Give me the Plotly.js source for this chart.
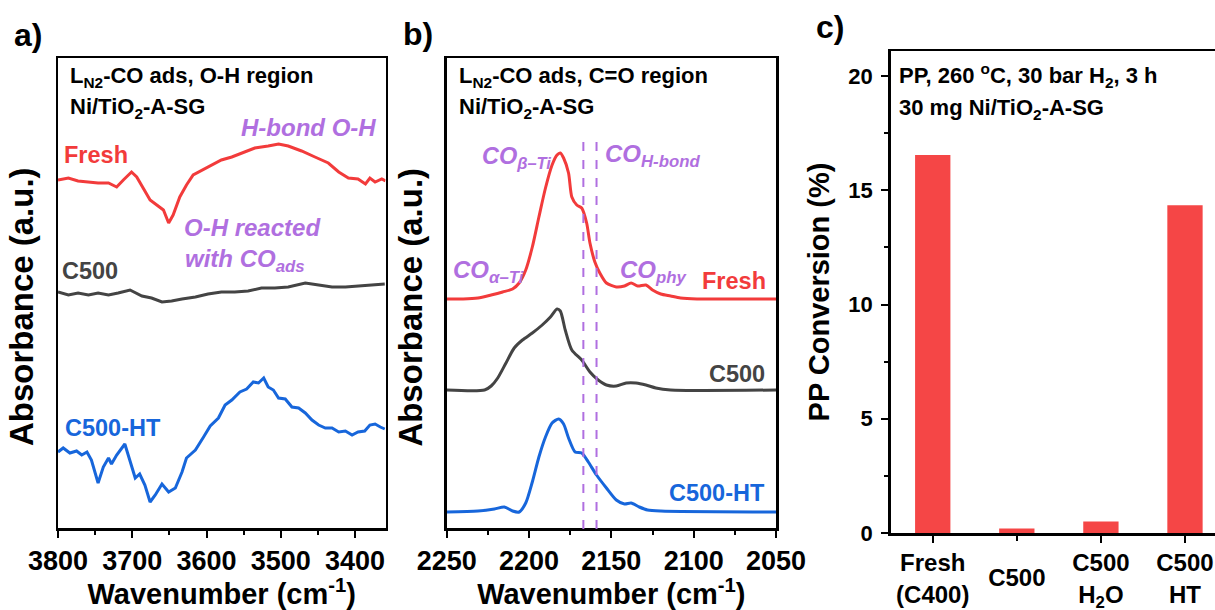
<!DOCTYPE html>
<html>
<head>
<meta charset="utf-8">
<script src="https://cdn.plot.ly/plotly-3.0.1.min.js"></script>
<style>html,body{margin:0;padding:0;background:#fff;}#chart{width:1215px;height:610px;}</style>
</head>
<body>
<div id="chart"></div>
<script>
// ---------- Panel a: O-H region (wavenumber, absorbance a.u.) ----------
const aFreshX = [3800,3786,3773,3759,3746,3732,3721,3712,3701,3694,3685,3676,3667,3658,3651,3645,3636,3627,3618,3606,3593,3580,3566,3553,3535,3517,3503,3490,3472,3454,3436,3422,3409,3396,3386,3380,3373,3364,3359];
const aFreshY = [3.48,3.50,3.47,3.46,3.45,3.45,3.41,3.48,3.56,3.51,3.40,3.28,3.23,3.18,3.05,3.13,3.31,3.43,3.53,3.58,3.63,3.68,3.71,3.75,3.80,3.82,3.84,3.82,3.77,3.71,3.65,3.56,3.50,3.49,3.44,3.50,3.46,3.49,3.47];
const aC500X = [3800,3786,3773,3759,3746,3732,3719,3703,3687,3674,3660,3647,3633,3615,3598,3580,3562,3544,3526,3508,3490,3467,3449,3431,3413,3396,3378,3360];
const aC500Y = [2.36,2.33,2.35,2.33,2.35,2.33,2.35,2.38,2.32,2.30,2.26,2.27,2.29,2.31,2.34,2.36,2.36,2.37,2.40,2.40,2.41,2.45,2.43,2.41,2.41,2.42,2.43,2.44];
const aHTX = [3800,3793,3784,3775,3768,3761,3755,3746,3739,3732,3728,3721,3710,3703,3696,3690,3683,3676,3669,3660,3651,3642,3633,3627,3615,3604,3595,3584,3575,3566,3555,3546,3537,3530,3523,3517,3510,3503,3494,3485,3476,3467,3458,3449,3440,3431,3422,3413,3404,3396,3387,3380,3373,3366,3360];
const aHTY = [0.76,0.80,0.75,0.77,0.73,0.76,0.68,0.45,0.61,0.70,0.64,0.73,0.84,0.68,0.50,0.54,0.43,0.26,0.33,0.44,0.36,0.40,0.56,0.70,0.78,0.91,1.02,1.10,1.23,1.28,1.36,1.39,1.46,1.45,1.50,1.41,1.38,1.30,1.29,1.21,1.20,1.15,1.08,1.03,1.00,1.00,0.96,0.97,0.93,0.96,0.97,1.03,1.04,1.01,0.99];

// ---------- Panel b: C=O region ----------
const bFreshX = [2250,2240,2231,2223,2216,2210,2206,2202,2198,2194,2190,2186,2183,2181,2179,2176,2174,2171,2168,2165,2163,2160,2157,2153,2147,2142,2138,2134,2129,2125,2120,2114,2108,2098,2080,2050];
const bFreshY = [2.30,2.30,2.31,2.34,2.37,2.40,2.46,2.59,2.82,3.12,3.41,3.64,3.74,3.76,3.71,3.56,3.32,3.24,3.21,3.06,2.86,2.67,2.56,2.46,2.42,2.43,2.46,2.43,2.44,2.39,2.35,2.33,2.31,2.30,2.30,2.30];
const bC500X = [2250,2227,2223,2219,2214,2209,2204,2198,2192,2187,2183,2181,2178,2174,2168,2163,2158,2153,2147,2141,2135,2129,2123,2114,2050];
const bC500Y = [1.39,1.39,1.43,1.51,1.66,1.81,1.89,1.96,2.04,2.12,2.20,2.18,1.99,1.79,1.69,1.57,1.49,1.44,1.43,1.46,1.46,1.44,1.41,1.39,1.39];
const bHTX = [2250,2231,2221,2215,2210,2206,2202,2198,2194,2190,2186,2182,2179,2176,2172,2168,2164,2159,2153,2147,2142,2138,2133,2128,2120,2050];
const bHTY = [0.17,0.18,0.20,0.22,0.18,0.17,0.26,0.47,0.72,0.92,1.06,1.10,1.05,0.91,0.77,0.76,0.67,0.54,0.41,0.29,0.25,0.26,0.22,0.19,0.18,0.17];
const bDashX = [2167, 2159];

// ---------- Panel c: PP conversion ----------
const cCategories = ["Fresh<br>(C400)", "C500", "C500<br>H<sub>2</sub>O", "C500<br>HT"];
const cConversion = [16.55, 0.2, 0.5, 14.35];

const RED = '#F23B3B', GREY = '#444444', BLUE = '#1766DB', PURPLE = '#B06FE0', BAR = '#F54646';
const FONT = 'Liberation Sans, Arial, sans-serif';

// two-line labelled categories go on x3, the single-line one on x4 (same scale, label centred lower)
const twoLine = [0, 2, 3];
const oneLine = [1];

const traces = [
  {x: aFreshX, y: aFreshY, xaxis: 'x', yaxis: 'y', mode: 'lines', line: {color: RED, width: 3}, name: 'Fresh'},
  {x: aC500X, y: aC500Y, xaxis: 'x', yaxis: 'y', mode: 'lines', line: {color: GREY, width: 3}, name: 'C500'},
  {x: aHTX, y: aHTY, xaxis: 'x', yaxis: 'y', mode: 'lines', line: {color: BLUE, width: 3}, name: 'C500-HT'},
  {x: bFreshX, y: bFreshY, xaxis: 'x2', yaxis: 'y2', mode: 'lines', line: {color: RED, width: 3, shape: 'spline', smoothing: 0.7}, name: 'Fresh'},
  {x: bC500X, y: bC500Y, xaxis: 'x2', yaxis: 'y2', mode: 'lines', line: {color: GREY, width: 3, shape: 'spline', smoothing: 0.7}, name: 'C500'},
  {x: bHTX, y: bHTY, xaxis: 'x2', yaxis: 'y2', mode: 'lines', line: {color: BLUE, width: 3, shape: 'spline', smoothing: 0.7}, name: 'C500-HT'},
  {x: twoLine.map(i => cCategories[i]), y: twoLine.map(i => cConversion[i]), xaxis: 'x3', yaxis: 'y3', type: 'bar', width: 0.42, marker: {color: BAR, line: {width: 0}}, name: 'PP Conversion'},
  {x: oneLine.map(i => cCategories[i]), y: oneLine.map(i => cConversion[i]), xaxis: 'x4', yaxis: 'y3', type: 'bar', width: 0.42, marker: {color: BAR, line: {width: 0}}, name: 'PP Conversion'}
];

const bold = (size) => ({family: FONT, size: size, color: '#000', weight: 'bold'});
const tickFont = bold(27);
const titleFont = {family: FONT, size: 29, color: '#000'};
const specX = (dom, rng, dt, mdt) => ({
  domain: dom, range: rng, showline: true, linewidth: 2.5, linecolor: '#000', mirror: true,
  ticks: 'outside', ticklen: 7, tickwidth: 2, tickcolor: '#000', dtick: dt, tick0: 0,
  minor: {dtick: mdt, ticks: 'outside', ticklen: 4, tickwidth: 2, tickcolor: '#000'},
  showgrid: false, zeroline: false, tickfont: tickFont,
  title: {text: '<b>Wavenumber (cm<sup>-1</sup>)</b>', font: titleFont, standoff: 6}
});
const specY = (dom, rng, anchor) => ({
  domain: dom, range: rng, anchor: anchor, showline: true, linewidth: 2.5, linecolor: '#000', mirror: true,
  ticks: '', showticklabels: false, showgrid: false, zeroline: false,
  title: {text: '<b>Absorbance (a.u.)\u00A0\u00A0\u00A0</b>', font: {family: FONT, size: 33, color: '#000'}, standoff: 12}
});

const ann = (xref, yref, x, y, text, color, size, xanchor, italic) => ({
  xref: xref, yref: yref, x: x, y: y, text: italic ? '<b><i>' + text + '</i></b>' : '<b>' + text + '</b>',
  showarrow: false, xanchor: xanchor, yanchor: 'middle',
  font: {family: FONT, size: size, color: color}
});

const annotations = [
  // panel labels
  ann('paper', 'paper', 28/1215, 1 - 35/610, 'a)', '#000', 32, 'center'),
  ann('paper', 'paper', 418/1215, 1 - 34/610, 'b)', '#000', 32, 'center'),
  ann('paper', 'paper', 830/1215, 1 - 27/610, 'c)', '#000', 32, 'center'),
  // panel a
  ann('x', 'y', 3786, 4.51, 'L<sub>N2</sub>-CO ads, O-H region', '#000', 22, 'left'),
  ann('x', 'y', 3786, 4.20, 'Ni/TiO<sub>2</sub>-A-SG', '#000', 22, 'left'),
  ann('x', 'y', 3369, 4.01, 'H-bond O-H', PURPLE, 24, 'right', true),
  ann('x', 'y', 3795, 3.73, 'Fresh', RED, 23.5, 'left'),
  ann('x', 'y', 3633, 3.01, 'O-H reacted', PURPLE, 24, 'left', true),
  ann('x', 'y', 3632, 2.68, 'with CO<sub>ads</sub>', PURPLE, 24, 'left', true),
  ann('x', 'y', 3797, 2.57, 'C500', GREY, 23.5, 'left'),
  ann('x', 'y', 3793, 1.00, 'C500-HT', BLUE, 23.5, 'left'),
  // panel b
  ann('x2', 'y2', 2243.7, 4.52, 'L<sub>N2</sub>-CO ads, C=O region', '#000', 22, 'left'),
  ann('x2', 'y2', 2243.7, 4.21, 'Ni/TiO<sub>2</sub>-A-SG', '#000', 22, 'left'),
  ann('x2', 'y2', 2230, 3.72, 'CO<sub>β–Ti</sub>', PURPLE, 23.5, 'left', true),
  ann('x2', 'y2', 2155, 3.74, 'CO<sub>H-bond</sub>', PURPLE, 24, 'left', true),
  ann('x2', 'y2', 2247.5, 2.58, 'CO<sub>α–Ti</sub>', PURPLE, 24, 'left', true),
  ann('x2', 'y2', 2146, 2.58, 'CO<sub>phy</sub>', PURPLE, 24, 'left', true),
  ann('x2', 'y2', 2054.8, 2.48, 'Fresh', RED, 23.5, 'right'),
  ann('x2', 'y2', 2055.5, 1.55, 'C500', GREY, 23.5, 'right'),
  ann('x2', 'y2', 2055.5, 0.36, 'C500-HT', BLUE, 23.5, 'right'),
  // panel c
  ann('x3', 'y3', -0.43, 20.04, 'PP, 260 <sup>o</sup>C, 30 bar H<sub>2</sub>, 3 h', '#000', 22, 'left'),
  ann('x3', 'y3', -0.42, 18.56, '30 mg Ni/TiO<sub>2</sub>-A-SG', '#000', 22, 'left')
];

const shapes = bDashX.map(v => ({
  type: 'line', xref: 'x2', yref: 'y2', x0: v, x1: v, y0: 0, y1: 3.87,
  line: {color: PURPLE, width: 2, dash: 'dash'}
}));

const cDomain = [890.7/1215, 1];
const cRange = [-0.5, 3.357];

const layout = {
  width: 1215, height: 610, margin: {l: 0, r: 0, t: 0, b: 0},
  paper_bgcolor: '#fff', plot_bgcolor: '#fff', showlegend: false,
  font: {family: FONT, color: '#000'},
  xaxis: specX([58/1215, 385.5/1215], [3800, 3359], 100, 50),
  yaxis: specY([1 - 528/610, 1 - 58/610], [0, 4.70], 'x'),
  xaxis2: specX([446.7/1215, 776/1215], [2250, 2050], 50, 25),
  yaxis2: specY([1 - 529/610, 1 - 58/610], [0, 4.71], 'x2'),
  xaxis3: {
    domain: cDomain, range: cRange, anchor: 'y3', type: 'category',
    categoryorder: 'array', categoryarray: cCategories,
    tickmode: 'array', tickvals: twoLine.map(i => cCategories[i]), ticktext: twoLine.map(i => cCategories[i]),
    showline: true, linewidth: 2.5, linecolor: '#000', mirror: true,
    ticks: 'outside', ticklen: 7, tickwidth: 2, tickcolor: '#000',
    showgrid: false, zeroline: false, tickfont: bold(24)
  },
  xaxis4: {
    domain: cDomain, range: cRange, anchor: 'y3', overlaying: 'x3', type: 'category',
    categoryorder: 'array', categoryarray: cCategories,
    tickmode: 'array', tickvals: oneLine.map(i => cCategories[i]), ticktext: oneLine.map(i => cCategories[i]),
    ticklabelstandoff: 16, side: 'bottom',
    showline: false, ticks: 'outside', ticklen: 7, tickwidth: 2, tickcolor: '#000',
    showgrid: false, zeroline: false, tickfont: bold(24)
  },
  yaxis3: {
    domain: [1 - 533/610, 1 - 51/610], range: [0, 21.1], anchor: 'x3',
    showline: true, linewidth: 2.5, linecolor: '#000', mirror: false,
    ticks: 'outside', ticklen: 7, tickwidth: 2, tickcolor: '#000', dtick: 5, tick0: 0,
    minor: {dtick: 2.5, ticks: 'outside', ticklen: 4, tickwidth: 2, tickcolor: '#000'},
    showgrid: false, zeroline: false, tickfont: bold(22), ticklabelstandoff: 4,
    title: {text: '<b>PP Conversion (%)</b>', font: titleFont, standoff: 10}
  },
  annotations: annotations,
  shapes: shapes
};

Plotly.newPlot('chart', traces, layout, {displayModeBar: false, staticPlot: true});
</script>
</body>
</html>
